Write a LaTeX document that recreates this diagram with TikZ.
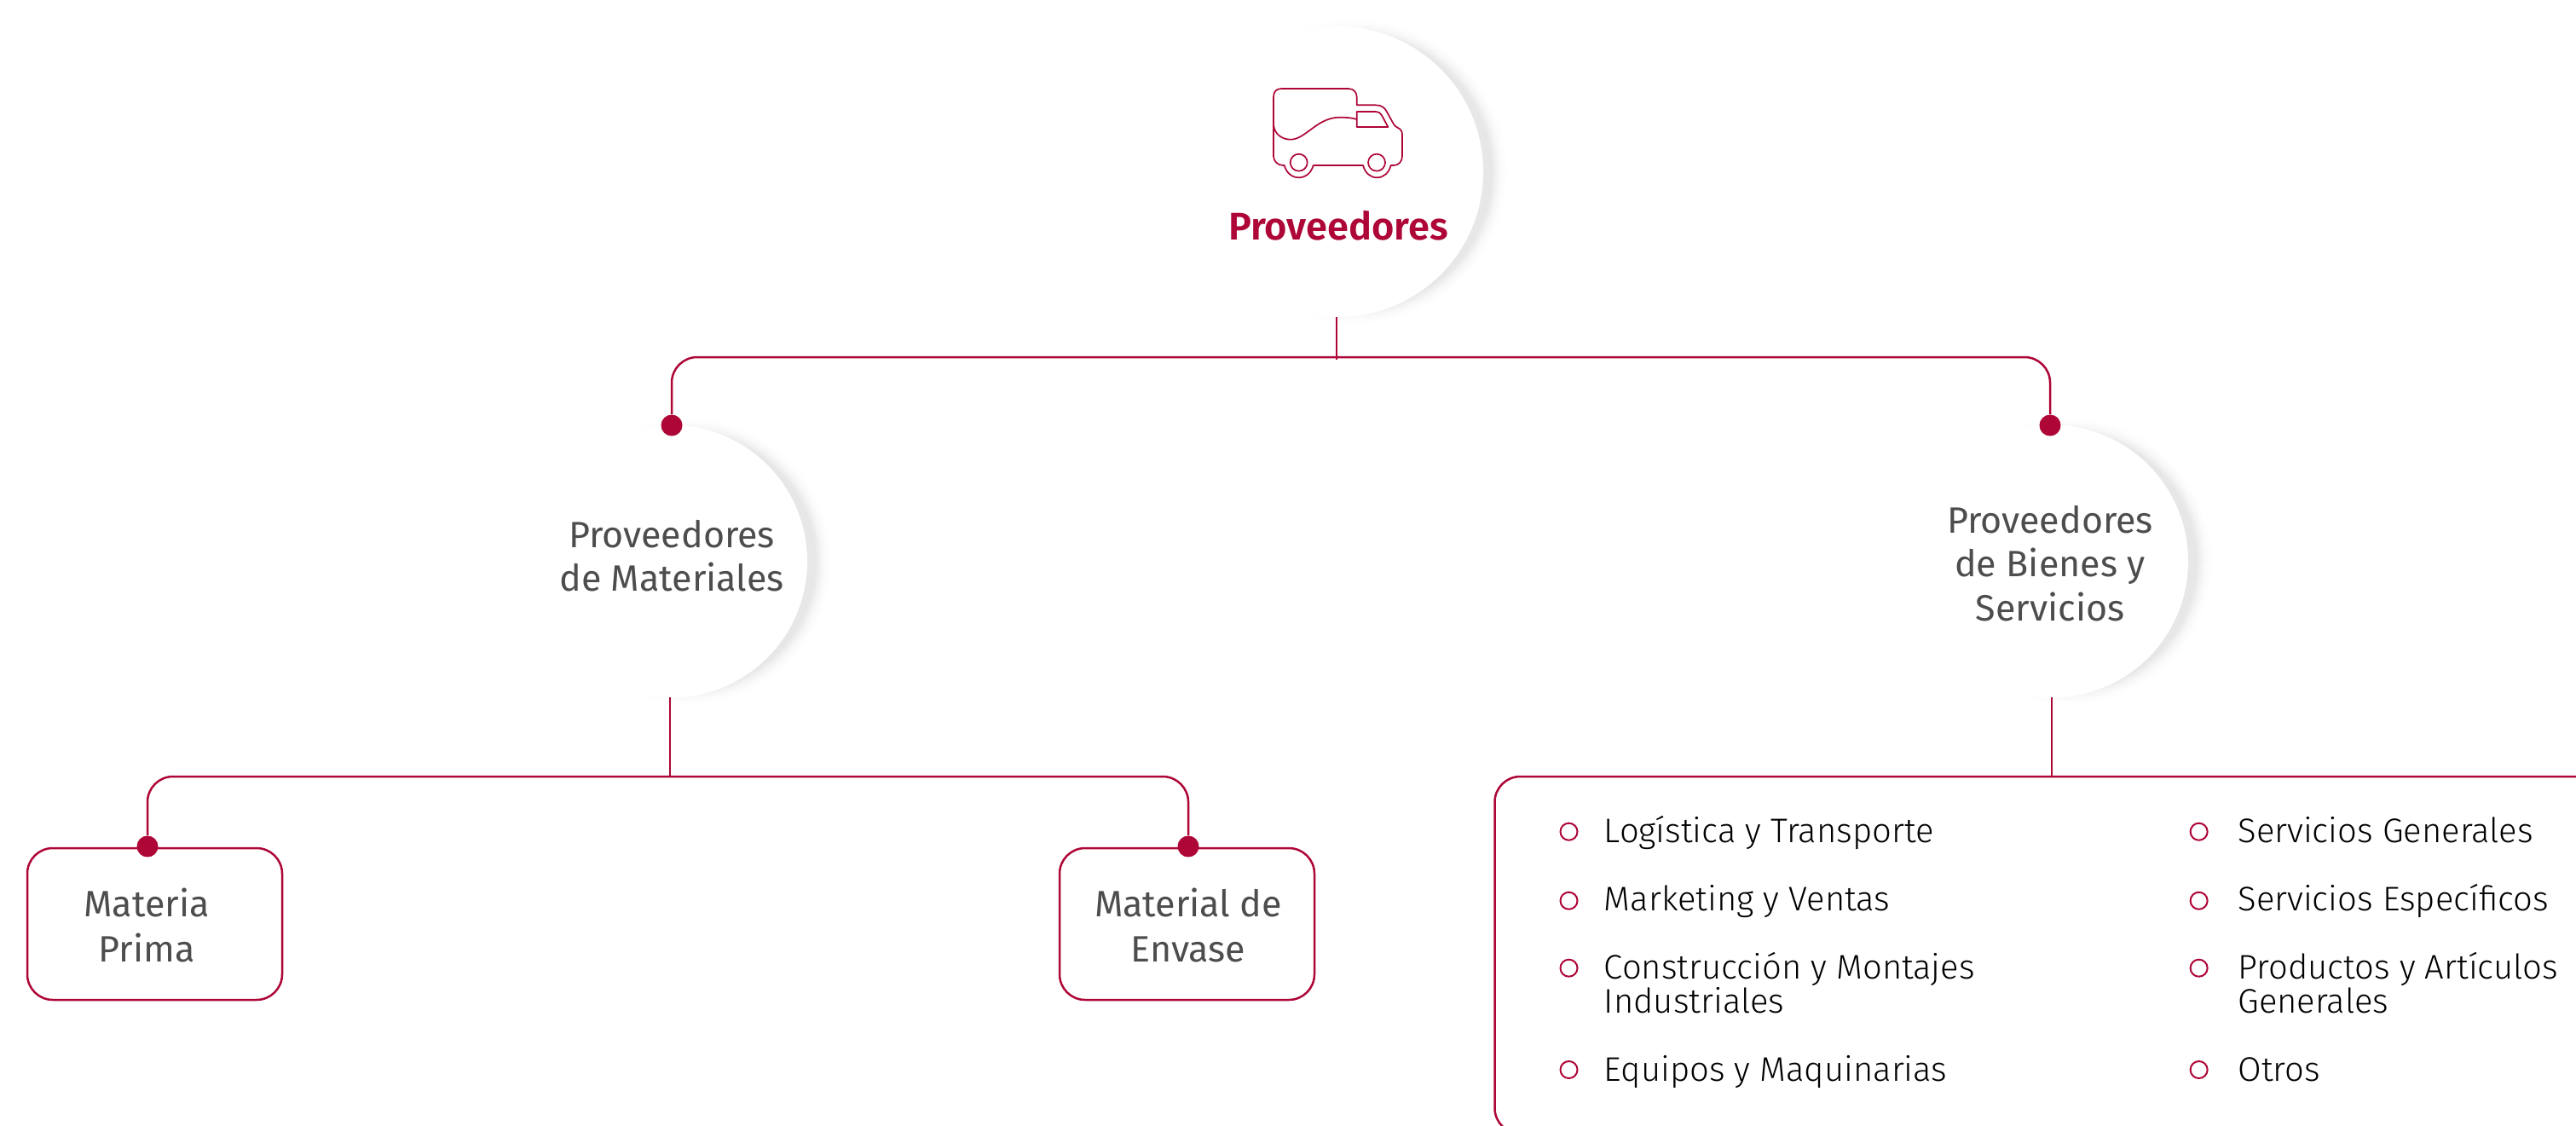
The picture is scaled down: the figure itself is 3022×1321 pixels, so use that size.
\documentclass[tikz,border=0pt]{standalone}
\usepackage{fontspec}
\setmainfont{Fira Sans}[UprightFont={* Light},BoldFont={* SemiBold}]
\newfontfamily\regfont{Fira Sans}
\definecolor{brand}{HTML}{AD0637}
\definecolor{ink}{HTML}{4D4D4D}
\newcommand{\mainsize}{\regfont\fontsize{21.5}{25.6}\selectfont}
\newcommand{\boxsize}{\regfont\fontsize{21.5}{26.5}\selectfont}
\newcommand{\itemsize}{\fontsize{20}{20}\selectfont}
\newcommand{\softshadow}[3]{%
  \foreach \a in {10,9,...,-10}{%
    \pgfmathsetmacro{\pct}{9.5*((10-\a)/20)^2}%
    \fill[black!\pct] (#1,#2) circle ({#3+\a});%
  }%
}
\tikzset{
  link/.style={draw=brand,line width=1.25pt,rounded corners=15pt},
  stem/.style={draw=brand,line width=1.1pt},
  jointdot/.style={circle,fill=brand,inner sep=0pt,minimum size=12.5pt},
  disc/.style={circle,fill=white,inner sep=0pt},
  leafbox/.style={draw=brand,line width=1.25pt,rounded corners=15pt,minimum width=149.5pt,minimum height=89pt,inner sep=0pt},
  disclabel/.style={text=ink,align=center,font=\mainsize,inner sep=0pt},
  boxlabel/.style={text=ink,align=center,font=\boxsize,inner sep=0pt},
  bulletmark/.style={circle,draw=brand,line width=1pt,inner sep=0pt,minimum size=10pt},
  itemlabel/.style={anchor=base west,inner sep=0pt,align=left,text=black,font=\itemsize},
  icon/.style={draw=brand,line width=0.85pt,line join=round},
}
\begin{document}
\begin{tikzpicture}[x=0.5pt,y=-0.5pt]
\useasboundingbox (0,0) rectangle (3022,1321);
% shadows
\softshadow{1589.5}{201.5}{170.5}
\softshadow{807}{658.5}{160}
\softshadow{2427}{658.5}{160}
% discs
\node[disc,minimum size=170.5pt] (prov) at (1569.5,201.5) {};
\node[disc,minimum size=160pt] (mat) at (787,658.5) {};
\node[disc,minimum size=160pt] (bie) at (2407,658.5) {};
\node[disclabel] (matlabel) at (788,652) {Proveedores\\de Materiales};
\node[disclabel] (bielabel) at (2405,661) {Proveedores\\de Bienes y\\Servicios};
\node[text=brand,font=\fontsize{22.6}{25}\selectfont\bfseries,anchor=base,inner sep=0pt] (provlabel) at (1570,281) {Proveedores};
% truck icon
\begin{scope}[shift={(1340,0)},x=0.16667pt,y=-0.16667pt]
  \draw[icon] (462,440) -- (462,342) .. controls (462,322) and (472,312) .. (490,312) -- (725,312) .. controls (745,312) and (755,325) .. (755,342) -- (755,370) -- (822,370) .. controls (842,370) and (852,378) .. (860,392) -- (882,432) .. controls (888,443) and (894,447) .. (900,450) .. controls (910,455) and (915,462) .. (915,475) -- (915,550) .. controls (915,570) and (900,582) .. (885,582) -- (875,582) .. controls (868,608) and (850,625) .. (826,625) .. controls (802,625) and (784,608) .. (777,582) -- (602,582) .. controls (595,608) and (575,625) .. (551,625) .. controls (527,625) and (507,608) .. (500,582) -- (495,582) .. controls (475,582) and (462,565) .. (462,550) -- cycle;
  \draw[icon] (462,440) .. controls (466,475) and (495,491) .. (522,491) .. controls (575,491) and (615,413) .. (695,413) .. controls (720,413) and (740,415) .. (755,420);
  \draw[icon] (755,393) -- (822,393) .. controls (832,393) and (838,397) .. (843,406) -- (865,447) -- (755,447) -- cycle;
  \draw[icon] (551,572) circle (30);
  \draw[icon] (825,572) circle (30);
\end{scope}
% level 1 connectors
\node[jointdot] (dotL) at (788,499) {};
\node[jointdot] (dotR) at (2405,499) {};
\coordinate (busL) at (788,419);
\coordinate (busR) at (2405,419);
\coordinate (busM) at (1568,422);
\coordinate (provstem) at (1568,372);
\draw[link] (dotL) -- (busL) -- (busR) -- (dotR);
\draw[stem] (provstem) -- (busM);
% level 2 boxes
\node[leafbox] (mp) at (181.5,1084) {};
\node[leafbox] (me) at (1392.5,1084) {};
\node[boxlabel] (mplabel) at (172,1085) {Materia\\Prima};
\node[boxlabel] (melabel) at (1394,1085) {Material de\\Envase};
\node[jointdot] (dotA) at (173,993) {};
\node[jointdot] (dotB) at (1394,993) {};
\coordinate (bus2L) at (173,911);
\coordinate (bus2R) at (1394,911);
\coordinate (bus2M) at (786,911);
\coordinate (matstem) at (786,818);
\draw[link] (dotA) -- (bus2L) -- (bus2R) -- (dotB);
\draw[stem] (matstem) -- (bus2M);
% list box
\coordinate (bie2) at (2407,818);
\coordinate (bie3) at (2407,911);
\draw[stem] (bie2) -- (bie3);
\coordinate (ltr) at (3100,911);
\coordinate (ltl) at (1753.5,911);
\coordinate (lbl) at (1753.5,1330);
\coordinate (lbr) at (3100,1330);
\draw[link] (ltr) -- (ltl) -- (lbl) -- (lbr);
% items
\foreach \n/\y in {a/975.7,b/1056.7,c/1135.7,d/1255}{
  \node[bulletmark] (bl\n) at (1840.5,\y) {};
  \node[bulletmark] (br\n) at (2579.6,\y) {};
}
\node[itemlabel] (i1) at (1881.5,988) {Logística y Transporte};
\node[itemlabel] (i2) at (1881.5,1068) {Marketing y Ventas};
\node[itemlabel] (i3) at (1881.5,1188) {Construcción y Montajes\\Industriales};
\node[itemlabel] (i4) at (1881.5,1268) {Equipos y Maquinarias};
\node[itemlabel] (j1) at (2625,988) {Servicios Generales};
\node[itemlabel] (j2) at (2625,1068) {Servicios Específicos};
\node[itemlabel] (j3) at (2625,1188) {Productos y Artículos\\Generales};
\node[itemlabel] (j4) at (2625,1268) {Otros};
\end{tikzpicture}
\end{document}
